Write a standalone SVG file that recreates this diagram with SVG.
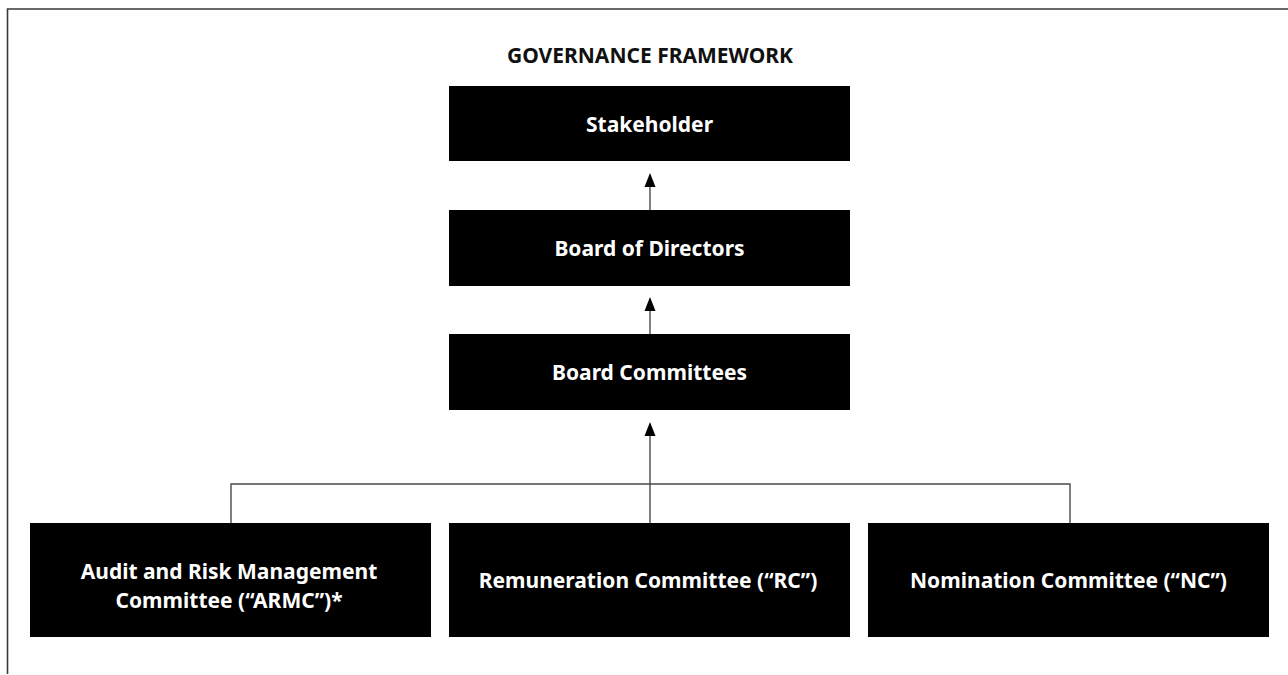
<svg xmlns="http://www.w3.org/2000/svg" width="1288" height="675" viewBox="0 0 1288 675">
<style>
.box{fill:#000}
.lbl{font-family:"Noto Sans","Open Sans","Liberation Sans",sans-serif;font-weight:700;font-size:21px;fill:#fff;text-anchor:middle}
.title{font-family:"Noto Sans","Open Sans","Liberation Sans",sans-serif;font-weight:700;font-size:21px;fill:#111;text-anchor:middle}
.con{stroke:#4a4a4a;stroke-width:1.4;fill:none}
.frame{stroke:#3a3a3a;stroke-width:1.6;fill:none}
</style>
<path class="frame" d="M7.5,674 L7.5,9 L1288,9"/>
<text class="title" x="650" y="63">GOVERNANCE FRAMEWORK</text>
<g id="connectors">
<line class="con" x1="650" y1="210" x2="650" y2="186" />
<path d="M650,173 L655.5,187 L644.5,187 Z" fill="#000"/>
<line class="con" x1="650" y1="334" x2="650" y2="310" />
<path d="M650,297 L655.5,311 L644.5,311 Z" fill="#000"/>
<line class="con" x1="650" y1="523" x2="650" y2="435" />
<path d="M650,422 L655.5,436 L644.5,436 Z" fill="#000"/>
<path class="con" d="M231,523 L231,484 L1070,484 L1070,523"/>
</g>
<g id="stakeholder">
<rect class="box" x="449" y="86" width="401" height="75"/>
<text class="lbl" x="649.5" y="131.5">Stakeholder</text>
</g>
<g id="board">
<rect class="box" x="449" y="210" width="401" height="76"/>
<text class="lbl" x="649.5" y="255.5">Board of Directors</text>
</g>
<g id="committees">
<rect class="box" x="449" y="334" width="401" height="76"/>
<text class="lbl" x="649.5" y="379.5">Board Committees</text>
</g>
<g id="armc">
<rect class="box" x="30" y="523" width="401" height="114"/>
<text class="lbl" x="229" y="579">Audit and Risk Management</text>
<text class="lbl" x="229" y="608">Committee (“ARMC”)*</text>
</g>
<g id="rc">
<rect class="box" x="449" y="523" width="401" height="114"/>
<text class="lbl" x="648" y="587.5">Remuneration Committee (“RC”)</text>
</g>
<g id="nc">
<rect class="box" x="868" y="523" width="401" height="114"/>
<text class="lbl" x="1068.5" y="587.5">Nomination Committee (“NC”)</text>
</g>
</svg>
